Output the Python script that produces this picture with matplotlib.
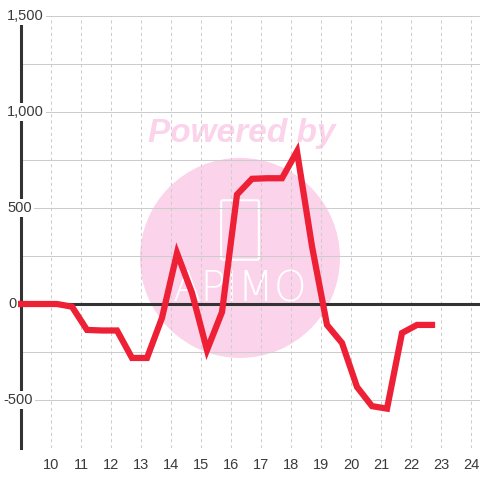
import matplotlib
matplotlib.use('Agg')
import matplotlib.pyplot as plt
from matplotlib.patches import Ellipse, FancyBboxPatch, Rectangle
from matplotlib.transforms import blended_transform_factory

# 数据 (小时, 数值)
hours = [8.7, 9.2, 9.7, 10.2, 10.7, 11.2, 11.7, 12.2, 12.7, 13.2, 13.7, 14.2, 14.7,
         15.2, 15.7, 16.2, 16.7, 17.2, 17.7, 18.2, 18.7, 19.2, 19.7, 20.2, 20.7,
         21.2, 21.7, 22.2, 22.7]
values = [0, 0, 0, 0, -14, -135, -138, -138, -281, -281, -72, 265, 58,
          -240, -42, 570, 652, 655, 655, 795, 300, -109, -203, -432, -532,
          -545, -151, -109, -109]
x_ticks = list(range(10, 25))
y_ticks = [1500, 1000, 500, 0, -500]
y_labels = ['1,500', '1,000', '500', '0', '-500']
y_grid = [1500, 1250, 1000, 750, 500, 250, 0, -250, -500, -750]

plt.rcParams['font.family'] = ['Liberation Sans', 'DejaVu Sans']

W, H = 459, 432  # 绘图区像素大小
fig = plt.figure(figsize=(4.8, 4.8), dpi=100)
ax = fig.add_axes([21 / 480, 32 / 480, W / 480, H / 480])
ax.set_xlim(9.0, 24.3)
ax.set_ylim(-750, 1500)

# 网格
for g in y_grid:
    ax.axhline(g, color='#cccccc', lw=0.75, zorder=1)
for t in x_ticks:
    ax.axvline(t, color='#cccccc', lw=0.75, ls=(0, (3, 3)), zorder=1)

# 水印
pink = '#fbd3ea'
ax.add_patch(Ellipse((0.477, 0.44), 200 / W, 200 / H, transform=ax.transAxes,
                     facecolor=pink, edgecolor='none', zorder=0.5))
ax.text(0.481, 0.729, 'Powered by', transform=ax.transAxes, ha='center', va='center',
        fontsize=24, fontweight='bold', fontstyle='italic', color=pink, zorder=0.6)
ax.add_patch(FancyBboxPatch(((223 - 21) / W, (448 - 258) / H), 34 / W, 56 / H,
                            boxstyle='round,pad=0.004', transform=ax.transAxes,
                            facecolor='none', edgecolor='white', lw=1.5, zorder=0.6))
ax.text((240 - 21) / W, (448 - 289) / H, 'APIMO', transform=ax.transAxes,
        ha='center', va='center', fontsize=30, color='white', family='DejaVu Sans',
        fontweight='ultralight', zorder=0.6)

# 零线
ax.axhline(0, color='#333333', lw=2.2, zorder=2)

# 数据线
line, = ax.plot(hours, values, color='#ee2035', lw=4.5, solid_joinstyle='miter',
                solid_capstyle='projecting', zorder=3)
clip = Rectangle((-4 / W, 0), 1 + 4 / W, 1, transform=ax.transAxes,
                 facecolor='none', edgecolor='none')
ax.add_patch(clip)
line.set_clip_path(clip)

# 坐标轴
for s in ['top', 'right', 'bottom']:
    ax.spines[s].set_visible(False)
ax.spines['left'].set_color('#333333')
ax.spines['left'].set_linewidth(2.2)
ax.spines['left'].set_zorder(2)
ax.set_xticks(x_ticks)
ax.tick_params(axis='x', length=0, pad=7, labelsize=10.5, labelcolor='#3a3a3a')
ax.set_yticks([])

# y 轴标签 (左边缘像素位置)
label_left_px = [7, 7, 7, 8, 3]
trans = blended_transform_factory(ax.transAxes, ax.transData)
for v, lab, lx in zip(y_ticks, y_labels, label_left_px):
    ax.text((lx - 21) / W, v, lab, transform=trans, ha='left', va='center', fontsize=10.5,
            color='#3a3a3a', zorder=5, clip_on=False,
            bbox=dict(facecolor='white', edgecolor='none', pad=1.5))

fig.savefig('out.png', dpi=100)
